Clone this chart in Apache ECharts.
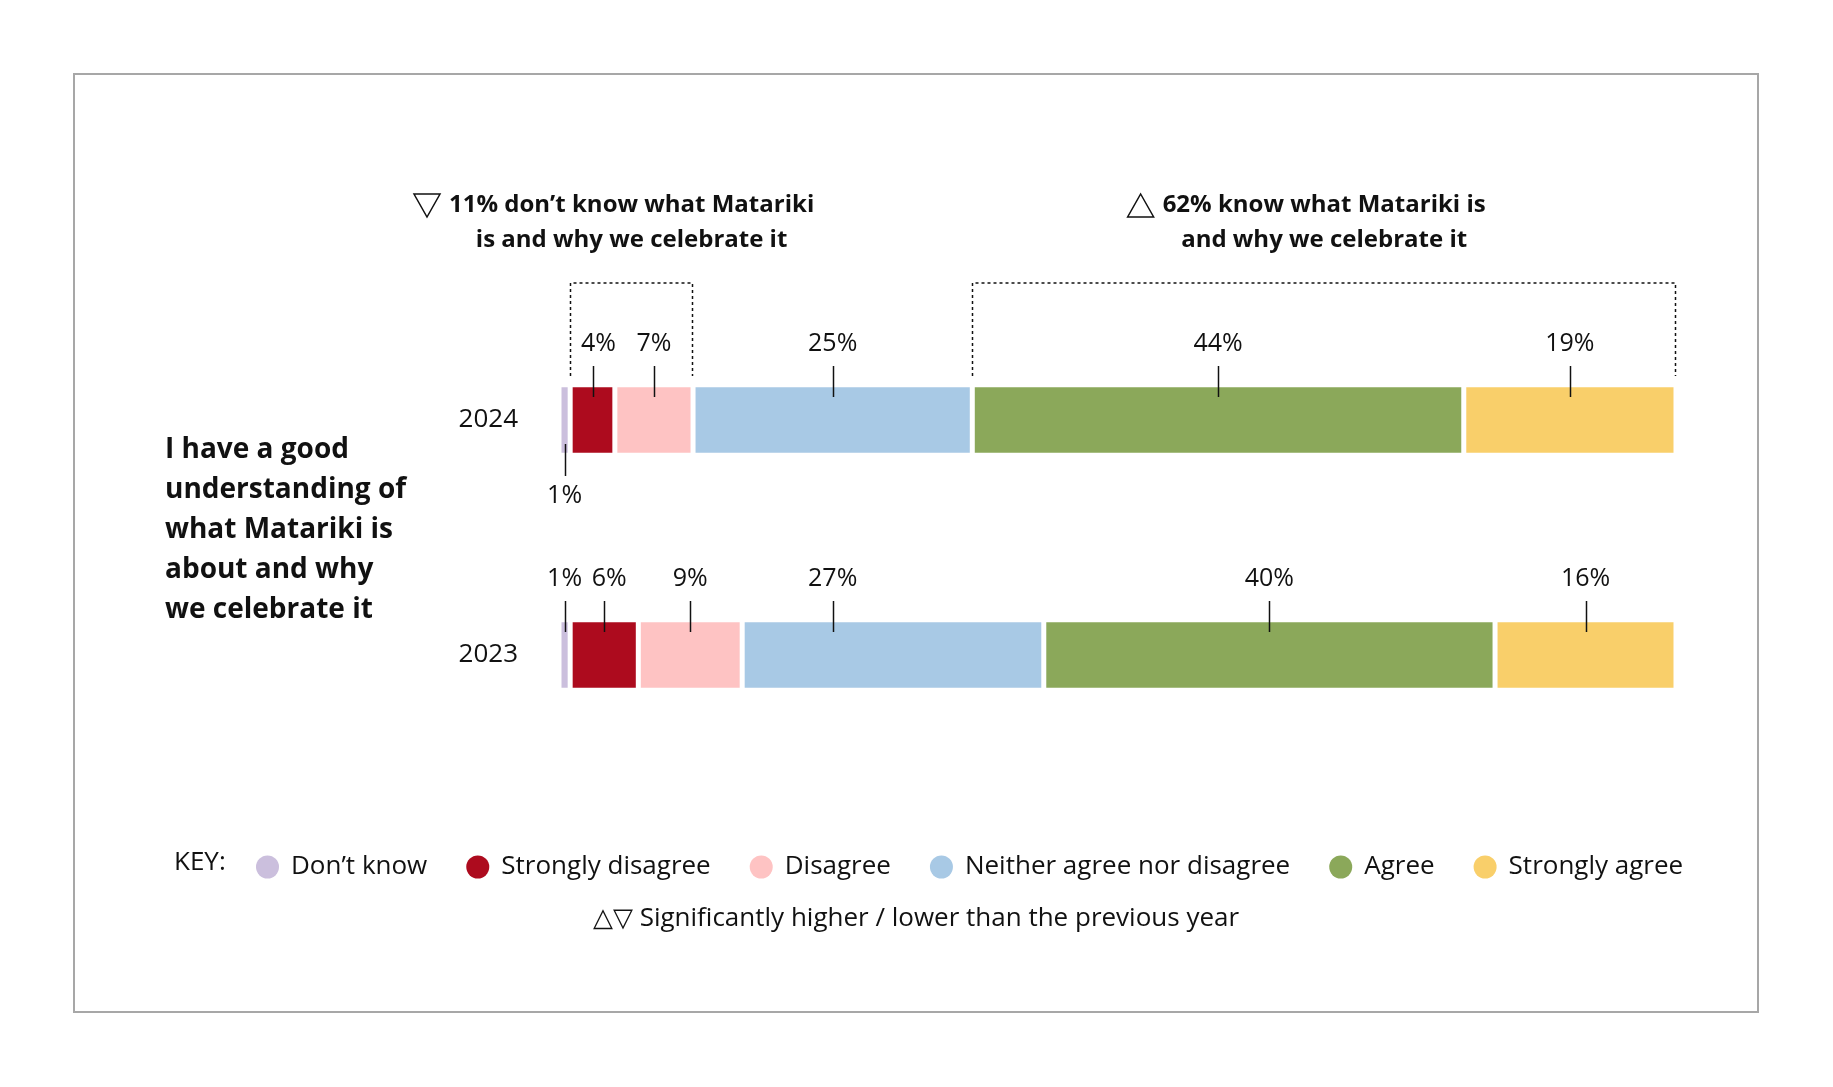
<!DOCTYPE html>
<html><head><meta charset="utf-8">
<script src="https://cdn.jsdelivr.net/npm/echarts@6/dist/echarts.min.js"></script>
<style>html,body{margin:0;padding:0;background:#fff}#c{width:1833px;height:1087px}</style>
</head><body><div id="c"></div>
<script>
// ---- data ----
const years = ['2024', '2023'];
const seriesNames = ['Don’t know', 'Strongly disagree', 'Disagree', 'Neither agree nor disagree', 'Agree', 'Strongly agree'];
const dontKnow = [1, 1.0];
const stronglyDisagree = [4, 6.1];
const disagree = [7, 9.3];
const neither = [25, 27.0];
const agree = [44, 40.4];
const stronglyAgree = [19, 16.2];
const seriesColors = ['#cbbfdd', '#ad0b1e', '#fec3c3', '#a8c9e5', '#8ba85a', '#f9cf6a'];
const labelsBelow = [[0], []]; // per year: segment indices whose label sits under the bar
const labelAnchorFromYear = { '1|3': 0 }; // 2023 "Neither" label is drawn at the 2024 position
const labelTextDx = { '0|1': 6, '1|1': 5 };
const annotationGroups = [[1, 2], [4, 5]]; // segment ranges (2024 bar) bracketed
const annotationLines = [
  ['11% don’t know what Matariki', 'is and why we celebrate it'],
  ['62% know what Matariki is', 'and why we celebrate it']
];
const annotationDirs = ['down', 'up'];
const questionText = 'I have a good\nunderstanding of\nwhat Matariki is\nabout and why\nwe celebrate it';
const footnote = '△▽ Significantly higher / lower than the previous year';

const allValues = [dontKnow, stronglyDisagree, disagree, neither, agree, stronglyAgree];
const BAR_VIS = 68;   // visible bar thickness
const BORDER = 2.5;
const FONT = '"Open Sans", "DejaVu Sans", sans-serif';
const INK = '#111';

const mctx = document.createElement('canvas').getContext('2d');
function measure(t, f) { mctx.font = f; return mctx.measureText(t).width; }

function centers(yi) {
  const out = []; let cum = 0;
  allValues.forEach(vals => { out.push(cum + vals[yi] / 2); cum += vals[yi]; });
  return out;
}
// label data
const labelData = [];
years.forEach((y, yi) => {
  allValues.forEach((vals, si) => {
    const key = yi + '|' + si;
    const ay = labelAnchorFromYear[key] !== undefined ? labelAnchorFromYear[key] : yi;
    labelData.push([centers(ay)[si], yi, Math.round(vals[yi]) + '%', labelsBelow[yi].indexOf(si) >= 0 ? 1 : 0, labelTextDx[key] || 0]);
  });
});
// annotation data (2024 bar)
const cum2024 = [0];
allValues.forEach((vals, si) => cum2024.push(cum2024[si] + vals[0]));
const annoData = annotationGroups.map((g, gi) => [cum2024[g[0]], cum2024[g[1] + 1], 0, gi]);

function renderLabel(params, api) {
  const p = api.coord([api.value(0), api.value(1)]);
  const half = BAR_VIS / 2;
  const item = labelData[params.dataIndex];
  const below = item[3] === 1;
  let y1, y2, ty;
  if (!below) { y1 = p[1] - half - 20; y2 = p[1] - half + 11; ty = p[1] - half - 42; }
  else { y1 = p[1] + half - 10; y2 = p[1] + half + 22; ty = p[1] + half + 42; }
  const x = Math.round(p[0]) + 0.5;
  return { type: 'group', children: [
    { type: 'line', shape: { x1: x, y1: y1, x2: x, y2: y2 }, style: { stroke: INK, lineWidth: 1.5 } },
    { type: 'text', style: { text: item[2], x: p[0] + item[4], y: ty, align: 'center', verticalAlign: 'middle', font: '25px ' + FONT, fill: INK } }
  ]};
}

function renderAnno(params, api) {
  const gi = api.value(3);
  const a = api.coord([api.value(0), api.value(2)]);
  const b = api.coord([api.value(1), api.value(2)]);
  const top = a[1] - BAR_VIS / 2;
  const by = top - 103, bb = top - 10;
  const ax = Math.round(a[0]) + 0.5, bx = Math.round(b[0]) - 0.5;
  const cx = (a[0] + b[0]) / 2;
  const lines = annotationLines[gi];
  const font = 'bold 24px ' + FONT;
  const w = measure(lines[0], font);
  const tl = cx - w / 2;
  const l1 = top - 181, l2 = top - 146;
  const triR = tl - 9, triL = triR - 26, triT = l1 - 11, triB = l1 + 12;
  const pts = annotationDirs[gi] === 'down'
    ? [[triL, triT], [triR, triT], [(triL + triR) / 2, triB]]
    : [[(triL + triR) / 2, triT], [triR, triB], [triL, triB]];
  return { type: 'group', children: [
    { type: 'polyline', shape: { points: [[ax, bb], [ax, by], [bx, by], [bx, bb]] },
      style: { stroke: INK, lineWidth: 1.5, lineDash: [3, 3], fill: 'none' } },
    { type: 'polygon', shape: { points: pts }, style: { stroke: INK, lineWidth: 1.5, fill: 'none' } },
    { type: 'text', style: { text: lines[0], x: cx, y: l1, align: 'center', verticalAlign: 'middle', font: font, fill: INK } },
    { type: 'text', style: { text: lines[1], x: cx, y: l2, align: 'center', verticalAlign: 'middle', font: font, fill: INK } }
  ]};
}

const chart = echarts.init(document.getElementById('c'), null, { renderer: 'canvas' });
const barSeries = seriesNames.map((name, si) => ({
  name: name, type: 'bar', stack: 'total', barWidth: BAR_VIS + BORDER,
  data: allValues[si],
  itemStyle: { color: seriesColors[si], borderColor: '#fff', borderWidth: BORDER },
  emphasis: { disabled: true }, silent: true
}));

chart.setOption({
  backgroundColor: '#fff',
  animation: false,
  grid: { left: 559, right: 157, top: 302.5, bottom: 314.5, containLabel: false },
  xAxis: { type: 'value', min: 0, max: 100, show: false },
  yAxis: { type: 'category', data: years, inverse: true,
    axisLine: { show: false }, axisTick: { show: false },
    axisLabel: { margin: 41, fontSize: 26, fontFamily: FONT, color: INK } },
  legend: {
    data: seriesNames, left: 251, top: 849, icon: 'circle', itemWidth: 23, itemHeight: 23, itemGap: 39,
    itemStyle: { borderWidth: 0 },
    textStyle: { fontSize: 26, fontFamily: FONT, color: INK, padding: [0, 0, 0, 7] },
    selectedMode: false
  },
  graphic: [
    { type: 'rect', shape: { x: 74, y: 74, width: 1684, height: 938 }, style: { fill: 'none', stroke: '#a7a7a7', lineWidth: 2 }, silent: true },
    { type: 'text', style: { text: questionText, x: 165, y: 430, verticalAlign: 'top', lineHeight: 40, font: 'bold 28px ' + FONT, fill: INK } },
    { type: 'text', style: { text: 'KEY:', x: 174, y: 863, verticalAlign: 'middle', font: '26px ' + FONT, fill: INK } },
    { type: 'text', style: { text: footnote, x: 916, y: 919, align: 'center', verticalAlign: 'middle', font: '26px ' + FONT, fill: INK } }
  ],
  series: barSeries.concat([
    { name: 'labels', type: 'custom', coordinateSystem: 'cartesian2d', renderItem: renderLabel,
      data: labelData.map(d => [d[0], d[1], 0, d[3]]), encode: { x: 0, y: 1 }, z: 5, silent: true },
    { name: 'annotations', type: 'custom', coordinateSystem: 'cartesian2d', renderItem: renderAnno,
      data: annoData, encode: { x: [0, 1], y: 2 }, z: 5, silent: true }
  ])
});
</script>
</body></html>
